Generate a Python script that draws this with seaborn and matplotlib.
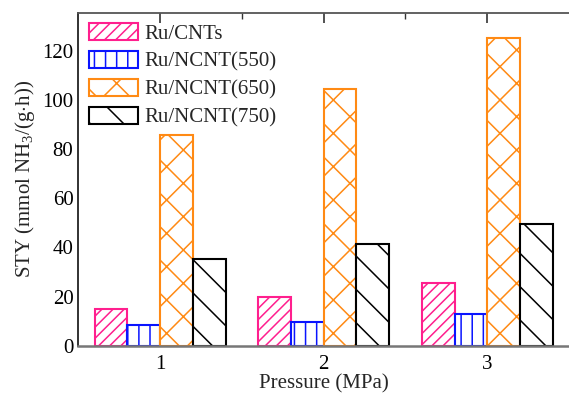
import numpy as np
import pandas as pd
import matplotlib
matplotlib.use("Agg")
import matplotlib.pyplot as plt
import matplotlib.hatch as mhatch
from matplotlib.ticker import MultipleLocator, FixedLocator
import seaborn as sns

# ---- data ----
pressures = ["1", "2", "3"]
catalysts = ["Ru/CNTs", "Ru/NCNT(550)", "Ru/NCNT(650)", "Ru/NCNT(750)"]
ru_cnts = [15.0, 19.6, 25.4]
ru_ncnt550 = [8.3, 9.8, 12.8]
ru_ncnt650 = [85.5, 104.3, 125.2]
ru_ncnt750 = [35.1, 41.2, 49.3]
colors = ["#FF1F8E", "#0A14FF", "#FF8A14", "#000000"]
hatches = ["///", "|", "x", "\\"]


# ---- slightly denser vertical hatch (9 lines per hatch unit) ----
class VH(mhatch.VerticalHatch):
    def __init__(self, hatch, density):
        self.num_lines = int((hatch.count('|') + hatch.count('+')) * 9)
        self.num_vertices = self.num_lines * 2


mhatch._hatch_types[:] = [VH if t is mhatch.VerticalHatch else t
                          for t in mhatch._hatch_types]

df = pd.DataFrame({
    "Pressure": pressures * 4,
    "Catalyst": np.repeat(catalysts, 3),
    "STY": ru_cnts + ru_ncnt550 + ru_ncnt650 + ru_ncnt750,
})

sns.set_style("white")
plt.rcParams["font.family"] = ["Liberation Serif", "DejaVu Serif"]
plt.rcParams["mathtext.fontset"] = "custom"
plt.rcParams["mathtext.rm"] = "Liberation Serif"
plt.rcParams["mathtext.it"] = "Liberation Serif:italic"
plt.rcParams["hatch.linewidth"] = 1.1

fig = plt.figure(figsize=(5.69, 3.97), dpi=100)
ax = fig.add_axes([78.3 / 569, 1 - 345.7 / 397, 1 - 78.3 / 569, (345.7 - 12.7) / 397])

sns.barplot(data=df, x="Pressure", y="STY", hue="Catalyst", order=pressures,
            hue_order=catalysts, palette=colors, fill=False, linewidth=1.5,
            width=0.8, gap=0, legend=False, ax=ax, errorbar=None)

for cont, h, c in zip(ax.containers, hatches, colors):
    for p in cont.patches:
        p.set_hatch(h)
        p.set_edgecolor(c)
        p.set_facecolor("white")
        p.set_linewidth(1.5)

ax.set_xlim(-0.5, 2.5)
ax.set_ylim(0, 135.4)
ax.yaxis.set_major_locator(MultipleLocator(20))
ax.yaxis.set_minor_locator(MultipleLocator(10))
ax.xaxis.set_minor_locator(FixedLocator([0.5, 1.5]))

ax.tick_params(axis="both", which="both", direction="in", top=True, right=False,
               colors="#333333", labelcolor="black", labelsize=15)
ax.tick_params(axis="both", which="major", length=7, width=1.2)
ax.tick_params(axis="both", which="minor", length=4, width=1.0)
ax.tick_params(axis="x", pad=7)

ax.spines["right"].set_visible(False)
ax.spines["left"].set_color("#222222")
ax.spines["left"].set_linewidth(1.3)
ax.spines["top"].set_color("#555555")
ax.spines["top"].set_linewidth(1.3)
ax.spines["bottom"].set_color("#777777")
ax.spines["bottom"].set_linewidth(1.8)

ax.set_xlabel("Pressure (MPa)", fontsize=15, labelpad=0)
ax.set_ylabel(r"STY (mmol NH$_3$/(g$\cdot$h))", fontsize=15, labelpad=4)

ax.legend(ax.containers, catalysts, loc="upper left", bbox_to_anchor=(0.022, 0.968),
          frameon=False, fontsize=15, handlelength=2.35, handleheight=0.85,
          handletextpad=0.3, labelspacing=0.36, borderpad=0, borderaxespad=0)

fig.savefig("out.png", dpi=100)
